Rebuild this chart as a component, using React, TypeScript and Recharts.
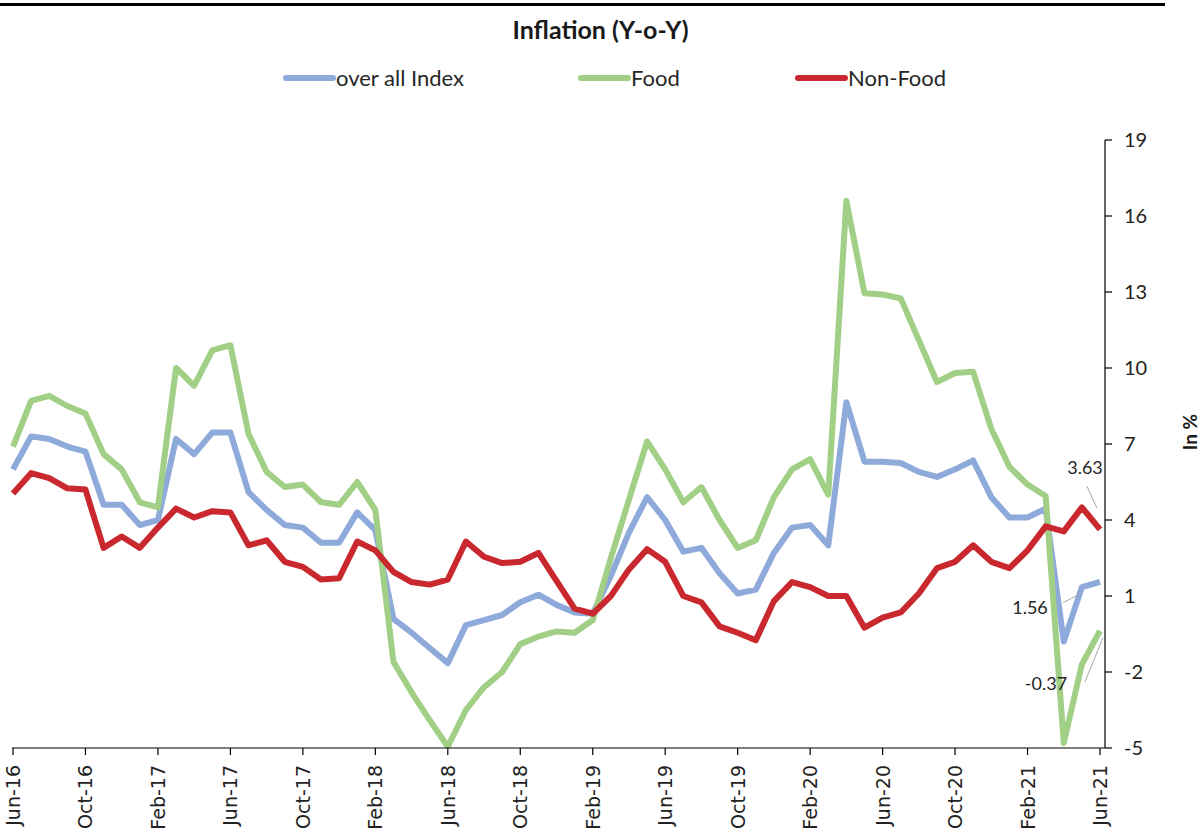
import { LineChart, Line, XAxis, YAxis } from 'recharts';

// Monthly year-on-year inflation, Jun-16 .. Jun-21
const months = [
  'Jun-16', 'Jul-16', 'Aug-16', 'Sep-16', 'Oct-16', 'Nov-16', 'Dec-16',
  'Jan-17', 'Feb-17', 'Mar-17', 'Apr-17', 'May-17', 'Jun-17', 'Jul-17', 'Aug-17', 'Sep-17', 'Oct-17', 'Nov-17', 'Dec-17',
  'Jan-18', 'Feb-18', 'Mar-18', 'Apr-18', 'May-18', 'Jun-18', 'Jul-18', 'Aug-18', 'Sep-18', 'Oct-18', 'Nov-18', 'Dec-18',
  'Jan-19', 'Feb-19', 'Mar-19', 'Apr-19', 'May-19', 'Jun-19', 'Jul-19', 'Aug-19', 'Sep-19', 'Oct-19', 'Nov-19', 'Dec-19',
  'Jan-20', 'Feb-20', 'Mar-20', 'Apr-20', 'May-20', 'Jun-20', 'Jul-20', 'Aug-20', 'Sep-20', 'Oct-20', 'Nov-20', 'Dec-20',
  'Jan-21', 'Feb-21', 'Mar-21', 'Apr-21', 'May-21', 'Jun-21',
];

const overallIndex = [
  6.0, 7.3, 7.2, 6.9, 6.7, 4.6, 4.6,
  3.8, 4.0, 7.2, 6.6, 7.45, 7.45, 5.1, 4.4, 3.8, 3.7, 3.1, 3.1,
  4.3, 3.6, 0.1, -0.45, -1.05, -1.65, -0.15, 0.05, 0.25, 0.75, 1.05, 0.65,
  0.35, 0.3, 1.8, 3.5, 4.9, 4.0, 2.75, 2.9, 1.9, 1.1, 1.25, 2.7,
  3.7, 3.8, 3.0, 8.65, 6.3, 6.3, 6.25, 5.9, 5.7, 6.0, 6.35, 4.9,
  4.1, 4.1, 4.45, -0.8, 1.35, 1.56,
];

const food = [
  6.9, 8.7, 8.9, 8.5, 8.2, 6.6, 6.0,
  4.7, 4.5, 10.0, 9.3, 10.7, 10.9, 7.4, 5.9, 5.3, 5.4, 4.7, 4.6,
  5.5, 4.4, -1.6, -2.8, -3.9, -4.95, -3.5, -2.6, -2.0, -0.9, -0.6, -0.4,
  -0.45, 0.05, 2.5, 4.8, 7.1, 6.0, 4.7, 5.3, 4.0, 2.9, 3.2, 4.9,
  6.0, 6.4, 5.0, 16.6, 12.95, 12.9, 12.75, 11.1, 9.45, 9.8, 9.85, 7.6,
  6.1, 5.4, 4.95, -4.8, -1.7, -0.37,
];

const nonFood = [
  5.05, 5.85, 5.65, 5.25, 5.2, 2.9, 3.35,
  2.9, 3.7, 4.45, 4.1, 4.35, 4.3, 3.0, 3.2, 2.35, 2.15, 1.65, 1.7,
  3.15, 2.8, 1.95, 1.55, 1.45, 1.65, 3.15, 2.55, 2.3, 2.35, 2.7, 1.6,
  0.5, 0.3, 1.0, 2.05, 2.85, 2.35, 1.0, 0.75, -0.2, -0.45, -0.75, 0.8,
  1.55, 1.35, 1.0, 1.0, -0.25, 0.15, 0.35, 1.1, 2.1, 2.35, 3.0, 2.35,
  2.1, 2.8, 3.75, 3.55, 4.5, 3.63,
];

const yTicks = [-5, -2, 1, 4, 7, 10, 13, 16, 19];

const BLUE = '#8eaadb';
const GREEN = '#a2cf86';
const RED = '#c9292e';
const LABEL_FONT = 'Lato, "Open Sans", sans-serif';

const data = months.map((month, i) => ({
  month,
  overall: overallIndex[i],
  food: food[i],
  nonFood: nonFood[i],
}));

const legendItems = [
  { name: 'over all Index', color: BLUE, left: 283 },
  { name: 'Food', color: GREEN, left: 578 },
  { name: 'Non-Food', color: RED, left: 795 },
];

// value label on the last point, with a thin leader line back to the point
function endLabel(tx: number, ty: number, x1: number, y1: number, x2: number, y2: number) {
  return (props: any) => {
    const { x, y, value, index } = props;
    if (index !== data.length - 1) return <g />;
    return (
      <g>
        <line x1={x + x1} y1={y + y1} x2={x + x2} y2={y + y2} stroke="#a6a6a6" strokeWidth={1} />
        <text
          x={x + tx}
          y={y + ty}
          textAnchor="middle"
          dominantBaseline="central"
          fontSize={18}
          fontFamily={LABEL_FONT}
          fill="#262626"
        >
          {Number(value).toFixed(2)}
        </text>
      </g>
    );
  };
}

const MonthTick = ({ x, y, payload }: any) => (
  <text
    x={x}
    y={y}
    transform={`rotate(-90, ${x}, ${y})`}
    textAnchor="end"
    dominantBaseline="central"
    fontSize={19}
    fontFamily='"DejaVu Sans", sans-serif'
    fill="#222"
  >
    {payload.value}
  </text>
);

export default function App() {
  return (
    <div style={{ position: 'absolute', left: 0, top: 0, width: 1201, height: 834, background: '#fff', overflow: 'hidden' }}>
      <div style={{ position: 'absolute', left: 0, top: 3, width: 1165, height: 3, background: '#000' }} />
      <div
        style={{
          position: 'absolute',
          top: 14,
          left: 0,
          width: 1201,
          textAlign: 'center',
          fontFamily: LABEL_FONT,
          fontWeight: 700,
          fontSize: 25,
          color: '#1a1a1a',
        }}
      >
        Inflation (Y-o-Y)
      </div>
      {legendItems.map((item) => (
        <div
          key={item.name}
          style={{
            position: 'absolute',
            left: item.left,
            top: 64,
            display: 'flex',
            alignItems: 'center',
            fontFamily: LABEL_FONT,
            fontSize: 22,
            color: '#262626',
          }}
        >
          <span style={{ display: 'inline-block', width: 53, height: 6, borderRadius: 3, background: item.color }} />
          <span>{item.name}</span>
        </div>
      ))}
      <div
        style={{
          position: 'absolute',
          left: 1189,
          top: 432,
          transform: 'translate(-50%, -50%) rotate(-90deg)',
          fontFamily: LABEL_FONT,
          fontWeight: 700,
          fontSize: 19,
          color: '#1a1a1a',
          whiteSpace: 'nowrap',
        }}
      >
        In %
      </div>

      <LineChart width={1201} height={834} data={data} margin={{ top: 140, right: 0, bottom: 0, left: 12 }}>
        <XAxis
          dataKey="month"
          interval={3}
          height={86}
          padding={{ left: 1, right: 5 }}
          tickSize={7}
          tickMargin={10}
          tick={<MonthTick />}
          axisLine={{ stroke: '#000', strokeWidth: 1.2 }}
          tickLine={{ stroke: '#000', strokeWidth: 1.2 }}
        />
        <YAxis
          orientation="right"
          width={96}
          domain={[-5, 19]}
          ticks={yTicks}
          allowDataOverflow
          tickSize={7}
          tickMargin={12}
          tick={{ fontSize: 20, fontFamily: LABEL_FONT, fill: '#222' }}
          axisLine={{ stroke: '#000', strokeWidth: 1.2 }}
          tickLine={{ stroke: '#000', strokeWidth: 1.2 }}
        />
        <Line
          dataKey="overall"
          name="over all Index"
          stroke={BLUE}
          strokeWidth={6}
          strokeLinejoin="round"
          dot={false}
          isAnimationActive={false}
          label={endLabel(-70, 25, -37, 21, -18, 11)}
        />
        <Line
          dataKey="food"
          name="Food"
          stroke={GREEN}
          strokeWidth={6}
          strokeLinejoin="round"
          dot={false}
          isAnimationActive={false}
          label={endLabel(-54, 52, -15, 51, 3, 7)}
        />
        <Line
          dataKey="nonFood"
          name="Non-Food"
          stroke={RED}
          strokeWidth={6}
          strokeLinejoin="round"
          dot={false}
          isAnimationActive={false}
          label={endLabel(-15, -62, -13, -43, -3, -21)}
        />
      </LineChart>
    </div>
  );
}
